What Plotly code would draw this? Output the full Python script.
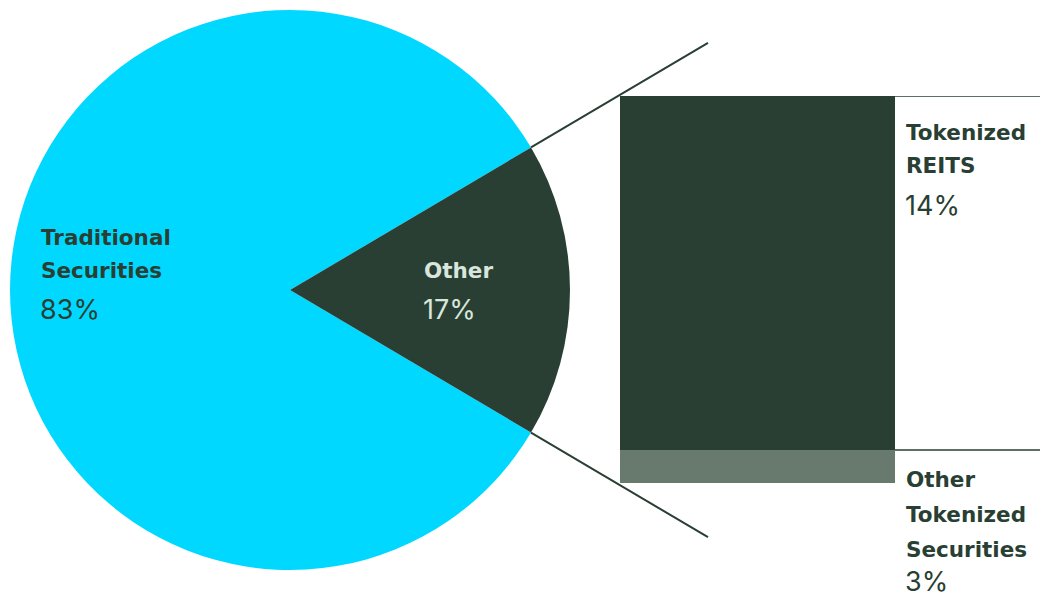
import math
import plotly.graph_objects as go

# ---- data ----
pie_labels = ["Traditional Securities", "Other"]
pie_values = [83, 17]
pie_colors = ["#00D8FF", "#293F33"]

bar_labels = ["Other Tokenized Securities", "Tokenized REITS"]
bar_pct_text = ["3%", "14%"]
bar_heights = [8.5, 91.5]          # share of bar height as drawn
bar_colors = ["#687A6E", "#293F33"]

W, H = 1044, 599
DARK = "#293F33"
LIGHT_TXT = "#D8E6DB"

def px(x):
    return x / W

def py(y):
    return (H - y) / H

# pie geometry (pixels)
cx, cy, r = 290, 290, 280
total = sum(pie_values)
half_angle = pie_values[1] / total * 180.0
rotation = 90 + half_angle

fig = go.Figure()
fig.add_trace(go.Pie(
    labels=pie_labels, values=pie_values, sort=False, direction="clockwise",
    rotation=rotation, marker=dict(colors=pie_colors, line=dict(width=0)),
    textinfo="none", hoverinfo="skip", showlegend=False,
    domain=dict(x=[px(cx - r), px(cx + r)], y=[py(cy + r), py(cy - r)]),
))

for lab, h, c in zip(bar_labels, bar_heights, bar_colors):
    fig.add_trace(go.Bar(
        x=["Other"], y=[h], name=lab, marker=dict(color=c, line=dict(width=0)),
        xaxis="x2", yaxis="y2", showlegend=False, hoverinfo="skip", width=1,
    ))

bx0, bx1, by0, by1 = 620, 895, 483, 96

fig.update_layout(
    width=W, height=H, margin=dict(l=0, r=0, t=0, b=0),
    paper_bgcolor="white", plot_bgcolor="rgba(0,0,0,0)",
    barmode="stack", bargap=0,
    xaxis2=dict(domain=[px(bx0), px(bx1)], anchor="y2", visible=False,
                range=[-0.5, 0.5], fixedrange=True),
    yaxis2=dict(domain=[py(by0), py(by1)], anchor="x2", visible=False,
                range=[0, sum(bar_heights)], fixedrange=True),
    font=dict(family="Inter, Roboto, sans-serif", color=DARK),
)

# connector lines continuing the wedge edges
a = math.radians(half_angle)
x_end = 708
for sgn in (1, -1):
    x0 = cx + r * math.cos(a)
    y0 = cy - sgn * r * math.sin(a)
    t = (x_end - cx) / math.cos(a)
    y1 = cy - sgn * t * math.sin(a)
    fig.add_shape(type="line", xref="paper", yref="paper",
                  x0=px(x0), y0=py(y0), x1=px(x_end), y1=py(y1),
                  line=dict(color=DARK, width=2))

# horizontal rules to the right of the bar
for yv in (sum(bar_heights), bar_heights[0]):
    fig.add_shape(type="line", xref="paper", yref="y2",
                  x0=px(bx1), x1=px(1040), y0=yv, y1=yv,
                  line=dict(color=DARK, width=1.5))

BOLD_FONT = "DejaVu Sans, Inter, sans-serif"
REG_FONT = "Inter, Roboto, sans-serif"

def label(x, y, text, size, bold=False, color=DARK):
    fig.add_annotation(
        x=px(x), y=py(y), xref="paper", yref="paper", xanchor="left",
        yanchor="bottom", showarrow=False, borderpad=0,
        text=f"<b>{text}</b>" if bold else text,
        font=dict(size=size, color=color,
                  family=BOLD_FONT if bold else REG_FONT),
    )

BS, PS = 21.5, 27
# Traditional Securities
label(40, 251, "Traditional", BS, True)
label(40, 284, "Securities", BS, True)
label(39, 327, "83%", PS)
# Other (pie)
label(423, 284, pie_labels[1], BS, True, LIGHT_TXT)
label(422, 327, "17%", PS, False, LIGHT_TXT)
# Tokenized REITS
label(905, 146, "Tokenized", BS, True)
label(905, 179, "REITS", BS, True)
label(904, 223, bar_pct_text[1], PS)
# Other Tokenized Securities
label(905, 493, "Other", BS, True)
label(905, 528, "Tokenized", BS, True)
label(905, 563, "Securities", BS, True)
label(904, 599, bar_pct_text[0], PS)

fig.write_html("out.html")
